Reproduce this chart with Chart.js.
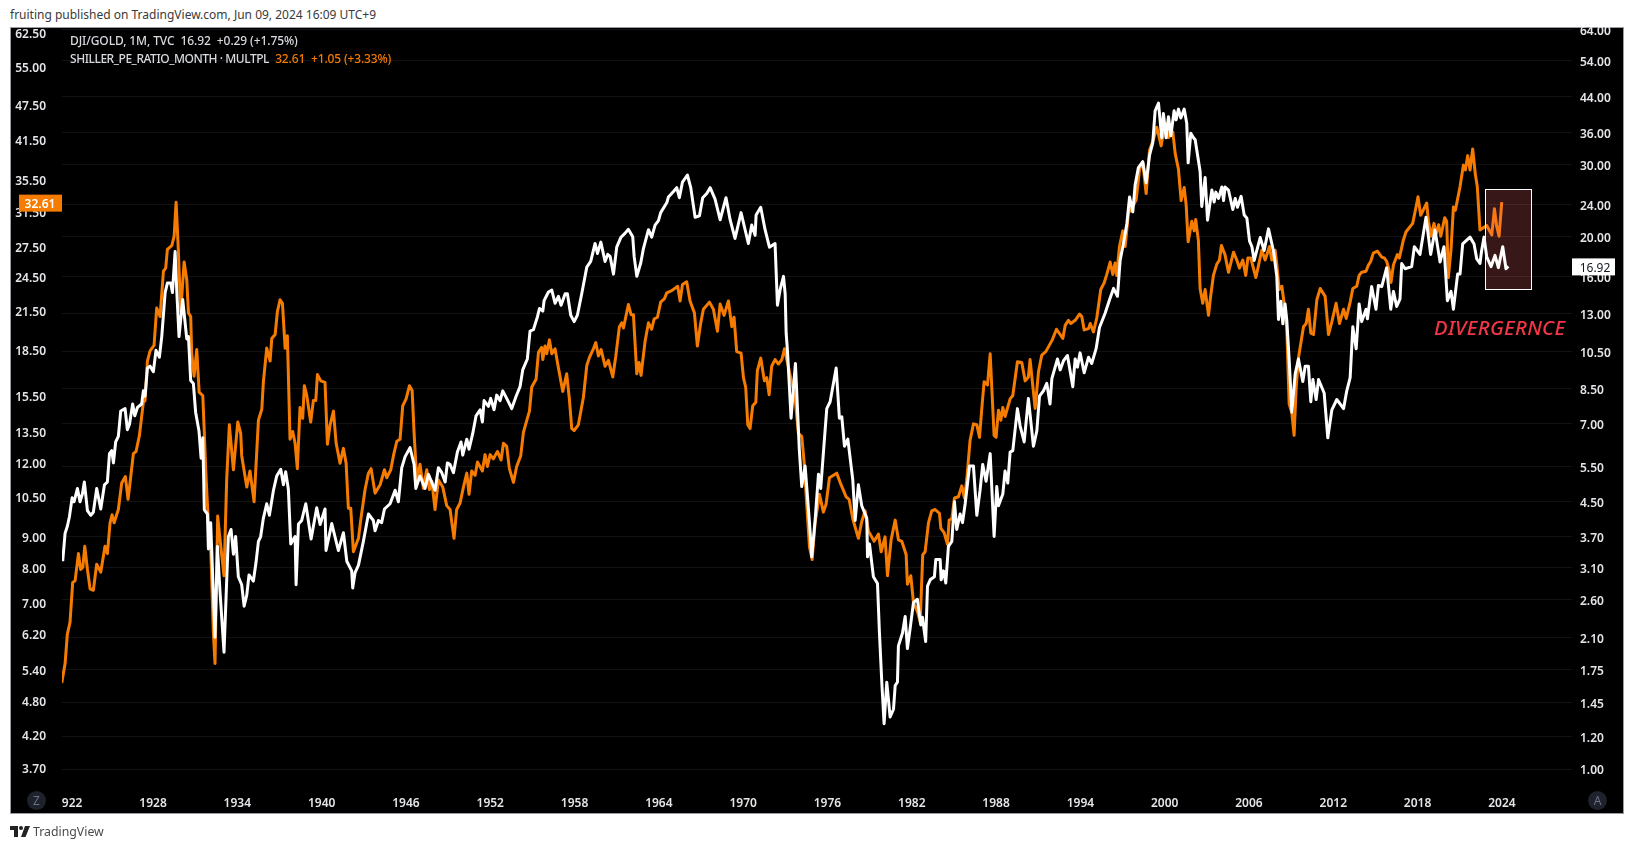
<!DOCTYPE html>
<html>
<head>
<meta charset="utf-8">
<title>DJI/GOLD vs Shiller PE</title>
<script src="https://cdn.jsdelivr.net/npm/chart.js@4"></script>
<style>
  html, body { margin: 0; padding: 0; background: #fff; }
  body { width: 1634px; height: 849px; position: relative; overflow: hidden; font-family: "Noto Sans", sans-serif; }
  .capa { position: absolute; white-space: pre; }
  #marco { left: 10px; top: 27px; width: 1612px; height: 785px; background: #000; border: 1px solid #9a9ca3; }
  #grafico { position: absolute; left: 0; top: 0; }
  #cabecera { left: 0; top: 0; width: 1634px; height: 27px; background: #fff; color: #3a3a3a; font-size: 12px; line-height: 30px; padding-left: 10px; box-sizing: border-box; }
  .leyenda { left: 70px; font-size: 12px; font-weight: 500; color: #d8dae0; line-height: 16px; letter-spacing: -0.1px; }
  .leyenda b { font-weight: 500; letter-spacing: -0.45px; }
  .leyenda span { color: #f57c00; letter-spacing: -0.15px; }
  #nota { left: 1434px; top: 313px; color: #f23645; font-size: 20.3px; font-style: italic; font-weight: 500; letter-spacing: 0.3px; line-height: 28px; }
  .boton { width: 19px; height: 19px; line-height: 19px; border-radius: 50%; background: #1e222d; color: #6f7280; font-size: 12px; text-align: center; top: 791px; }
  #marca { left: 33px; top: 822px; color: #4a4a4a; font-size: 12.3px; line-height: 20px; }
  #logo { position: absolute; left: 10px; top: 826px; }
</style>
</head>
<body>
<div id="marco" class="capa"></div>
<canvas id="grafico" width="1634" height="849"></canvas>
<div id="cabecera" class="capa">fruiting published on TradingView.com, Jun 09, 2024 16:09 UTC+9</div>
<div class="capa leyenda" style="top:33px">DJI/GOLD, 1M, TVC  16.92  +0.29 (+1.75%)</div>
<div class="capa leyenda" style="top:51px"><b>SHILLER_PE_RATIO_MONTH · MULTPL</b>  <span>32.61  +1.05 (+3.33%)</span></div>
<div id="nota" class="capa">DIVERGERNCE</div>
<div class="capa boton" style="left:27px">Z</div>
<div class="capa boton" style="left:1588px">A</div>
<svg id="logo" width="20" height="11" viewBox="0 0 20 11"><path d="M0 0h8v11H4V4H0z M15 0h5l-4.500 11H11z" fill="#222"/><circle cx="11" cy="2" r="2" fill="#222"/></svg>
<div id="marca" class="capa">TradingView</div>

<script>
// eje de tiempo
const ticksX = [1922.24, 1928, 1934, 1940, 1946, 1952, 1958, 1964, 1970, 1976, 1982, 1988, 1994, 2000, 2006, 2012, 2018, 2024];
const etiquetasX = ["922", "1928", "1934", "1940", "1946", "1952", "1958", "1964", "1970", "1976", "1982", "1988", "1994", "2000", "2006", "2012", "2018", "2024"];

// escalas de precio
const ticksIzquierda = [62.5, 55, 47.5, 41.5, 35.5, 31.5, 27.5, 24.5, 21.5, 18.5, 15.5, 13.5, 12, 10.5, 9, 8, 7, 6.2, 5.4, 4.8, 4.2, 3.7];
const ticksDerecha = [64, 54, 44, 36, 30, 24, 20, 16, 13, 10.5, 8.5, 7, 5.5, 4.5, 3.7, 3.1, 2.6, 2.1, 1.75, 1.45, 1.2, 1];

// SHILLER_PE_RATIO_MONTH, [anio, valor]
const shiller = [
  [1921.5,5.13],[1921.74,5.53],[1921.9,6.19],[1922.09,6.48],[1922.28,7.55],[1922.45,7.6],[1922.69,8.44],[1922.85,7.94],[1923.0,8.0],[1923.14,8.68],
  [1923.33,7.94],[1923.52,7.37],[1923.75,7.33],[1923.99,8.1],[1924.28,7.86],[1924.58,8.68],[1924.75,8.44],[1924.94,9.5],[1925.08,9.8],[1925.23,9.5],
  [1925.53,10.0],[1925.77,11.07],[1926.03,11.35],[1926.22,10.4],[1926.36,11.07],[1926.6,12.4],[1926.79,12.5],[1927.03,13.3],[1927.31,15.1],[1927.43,15.2],
  [1927.6,17.7],[1927.79,18.4],[1928.07,18.8],[1928.26,21.7],[1928.5,21.0],[1928.74,25],[1928.9,25.3],[1929.02,27.2],[1929.33,27.6],[1929.5,28.6],
  [1929.64,32.6],[1929.78,27.8],[1929.97,21.4],[1930.21,25.9],[1930.4,24.2],[1930.52,21.3],[1930.68,21.0],[1930.75,18.2],[1930.92,16.7],[1931.11,18.5],
  [1931.28,15.7],[1931.54,15.5],[1931.65,13.4],[1931.77,11.35],[1931.94,9.5],[1932.1,8.68],[1932.29,6.25],[1932.41,5.53],[1932.6,9.75],[1932.82,8.68],
  [1933.05,7.75],[1933.24,11.2],[1933.43,13.85],[1933.72,11.65],[1934.03,14],[1934.24,13.4],[1934.31,12.3],[1934.67,10.9],[1934.9,11.6],[1935.19,10.3],
  [1935.5,14.1],[1935.74,14.7],[1935.85,16.3],[1936.09,18.6],[1936.33,17.7],[1936.45,19.3],[1936.69,19.6],[1936.85,21.4],[1937.04,22.4],[1937.21,22.1],
  [1937.4,18.6],[1937.56,19.5],[1937.75,13.1],[1937.94,13.5],[1938.11,12.9],[1938.27,11.7],[1938.46,14.8],[1938.65,14.2],[1938.77,16.1],[1938.94,15.5],
  [1939.22,14],[1939.41,15.2],[1939.58,15.2],[1939.7,16.8],[1939.94,16.4],[1940.24,16.3],[1940.41,12.85],[1940.6,13.85],[1940.84,14.6],[1941.03,12.9],
  [1941.31,11.95],[1941.55,12.65],[1941.74,11.95],[1941.9,10.05],[1942.07,10.05],[1942.26,8.5],[1942.62,8.95],[1942.78,9.6],[1943.09,10.8],[1943.33,11.5],
  [1943.52,11.7],[1943.8,10.65],[1944.16,11.0],[1944.47,11.65],[1944.63,11.3],[1944.92,11.65],[1945.11,12.3],[1945.35,13],[1945.58,13.1],[1945.77,14.9],
  [1946.01,15.3],[1946.25,16.1],[1946.44,15.8],[1946.58,13.4],[1946.77,11.2],[1947.0,11.9],[1947.24,10.85],[1947.48,11.65],[1947.67,10.8],[1947.84,11.15],
  [1948.07,10],[1948.31,11.2],[1948.62,10.9],[1948.9,10.15],[1949.14,10.0],[1949.42,8.95],[1949.61,10.0],[1949.85,10.25],[1950.09,10.9],[1950.33,11.5],
  [1950.49,10.6],[1950.68,11.6],[1950.92,11.4],[1951.09,12.0],[1951.44,11.6],[1951.63,12.35],[1951.8,11.8],[1951.99,12.35],[1952.22,12.15],[1952.51,12.5],
  [1952.77,12.1],[1952.94,12.9],[1953.17,12.75],[1953.36,11.7],[1953.65,11.1],[1953.88,11.8],[1954.17,12.3],[1954.36,13.45],[1954.64,14.2],[1954.79,14.6],
  [1954.95,16.0],[1955.07,16.2],[1955.26,16.5],[1955.43,18.3],[1955.66,18.65],[1955.74,17.8],[1955.9,18.75],[1956.02,18.2],[1956.21,19.2],[1956.38,18.2],
  [1956.61,18.55],[1956.85,17.25],[1957.16,15.75],[1957.44,16.85],[1957.63,15.3],[1957.8,13.65],[1957.97,13.55],[1958.27,13.85],[1958.63,15.4],[1958.87,17.4],
  [1959.06,17.95],[1959.34,18.55],[1959.51,19],[1959.7,18.05],[1959.89,18.5],[1960.17,17.35],[1960.41,17.75],[1960.72,16.65],[1960.93,18.0],[1961.19,20.2],
  [1961.36,20.5],[1961.48,20.1],[1961.83,22.0],[1962.02,21.15],[1962.19,21.15],[1962.43,16.85],[1962.59,17.6],[1962.73,16.75],[1963.02,19.1],[1963.26,20.5],
  [1963.49,20],[1963.66,20.8],[1963.9,20.95],[1964.13,22.2],[1964.4,22.5],[1964.56,23],[1964.92,23.2],[1965.34,23.6],[1965.51,22.3],[1965.68,23.75],
  [1965.98,24.0],[1966.22,22.3],[1966.53,21.3],[1966.74,18.75],[1966.98,20.5],[1967.17,21.6],[1967.6,22.2],[1967.88,21.6],[1968.17,19.85],[1968.36,22.05],
  [1968.64,21.1],[1968.95,22.3],[1969.19,20.2],[1969.35,20.95],[1969.54,18.35],[1969.85,18.25],[1970.02,16.6],[1970.18,16.0],[1970.33,13.85],[1970.49,13.65],
  [1970.68,14.9],[1970.9,15.1],[1971.01,17.05],[1971.25,17.9],[1971.51,16.4],[1971.68,16.6],[1971.85,15.55],[1972.03,17.35],[1972.27,17.8],[1972.51,17.5],
  [1972.75,17.8],[1972.94,18.55],[1973.15,17.6],[1973.7,15.3],[1973.93,13.4],[1974.17,13.25],[1974.34,12.0],[1974.53,10.15],[1974.72,8.65],[1974.91,8.25],
  [1975.12,9.5],[1975.43,10.6],[1975.71,9.9],[1975.9,10.2],[1976.14,11.3],[1976.66,11.5],[1976.9,11.1],[1977.33,10.5],[1977.54,10.4],[1977.8,9.65],
  [1978.2,8.95],[1978.44,9.55],[1978.68,9.95],[1978.92,9.2],[1979.15,9.0],[1979.32,8.85],[1979.63,9.1],[1979.82,8.5],[1980.1,9.0],[1980.27,7.75],
  [1980.53,8.9],[1980.82,9.6],[1981.05,8.9],[1981.29,8.85],[1981.6,8.4],[1981.69,7.5],[1981.93,7.75],[1982.12,7.0],[1982.4,6.75],[1982.6,6.5],
  [1982.78,8.4],[1982.95,8.5],[1983.19,9.5],[1983.42,9.95],[1983.66,10.0],[1983.97,9.85],[1984.07,9.3],[1984.3,9.15],[1984.54,8.75],[1984.66,9.6],
  [1984.85,9.65],[1985.04,10.45],[1985.32,10.5],[1985.56,10.95],[1985.75,10.45],[1985.91,11.2],[1986.15,13.05],[1986.39,13.9],[1986.63,13.85],[1986.82,13.2],
  [1987.01,15.0],[1987.15,16.35],[1987.39,16.15],[1987.58,18.2],[1987.86,13.3],[1988.0,13.2],[1988.17,14.65],[1988.34,14.1],[1988.48,14.8],[1988.64,14.3],
  [1989.0,15.3],[1989.19,15.5],[1989.52,17.65],[1989.83,17.6],[1990.07,16.4],[1990.3,16.65],[1990.42,17.8],[1990.78,14.75],[1991.02,17.0],[1991.25,18.1],
  [1991.54,18.35],[1992.0,19.2],[1992.3,20.0],[1992.56,19.6],[1992.75,19.3],[1992.92,20.3],[1993.15,20.7],[1993.32,20.45],[1993.63,20.7],[1993.94,21.2],
  [1994.1,21.0],[1994.27,19.95],[1994.58,20.05],[1994.7,20.45],[1994.93,19.8],[1995.17,20.9],[1995.45,23.3],[1995.69,23.9],[1995.88,24.7],[1996.12,25.9],
  [1996.31,24.7],[1996.47,25.8],[1996.59,24.6],[1996.78,27.5],[1997.02,29.2],[1997.19,27.5],[1997.42,31.3],[1997.66,31.8],[1997.97,32.9],[1998.21,37.0],
  [1998.44,38],[1998.68,33.7],[1998.92,39.8],[1999.2,41.5],[1999.44,43.5],[1999.75,40.5],[2000.03,44.2],[2000.27,41.8],[2000.58,42.7],[2000.75,39.3],
  [2000.98,37],[2001.17,32.8],[2001.39,34.5],[2001.53,32.2],[2001.67,28],[2001.93,30.3],[2002.1,29.2],[2002.21,30.5],[2002.4,28.1],[2002.52,23.4],
  [2002.71,22.1],[2002.88,23.3],[2003.12,21.1],[2003.28,22.8],[2003.47,24.6],[2003.71,25.7],[2003.9,26.1],[2004.04,27.6],[2004.3,26.6],[2004.54,24.9],
  [2004.9,26.9],[2005.13,26.1],[2005.32,25.3],[2005.56,26.1],[2005.77,24.6],[2005.92,26.3],[2006.13,26.3],[2006.49,24.4],[2006.91,27.1],[2007.15,26.1],
  [2007.46,27.5],[2007.62,26.1],[2007.86,27.1],[2007.98,25.7],[2008.15,23.3],[2008.34,23.6],[2008.57,21.5],[2008.69,20],[2008.86,15.0],[2009.05,14.5],
  [2009.21,13.3],[2009.36,16],[2009.52,17.9],[2009.88,20.2],[2010.07,20.45],[2010.23,21.6],[2010.4,19.7],[2010.59,19.6],[2010.83,22.4],[2011.07,23.4],
  [2011.42,22.7],[2011.66,19.6],[2011.9,20.6],[2012.2,22.1],[2012.44,20.45],[2012.73,21.6],[2012.92,20.85],[2013.2,22.2],[2013.39,23.4],[2013.67,23.6],
  [2013.84,24.6],[2014.02,24.9],[2014.33,25],[2014.5,25.6],[2014.66,25.95],[2014.85,26.8],[2015.14,27],[2015.45,26.4],[2015.64,26.3],[2015.8,25.95],
  [2015.97,25.15],[2016.11,23.95],[2016.28,25.6],[2016.56,26.65],[2016.7,26.3],[2016.99,28.2],[2017.18,29.1],[2017.65,30.05],[2017.89,32],[2018.03,33.3],
  [2018.22,31],[2018.65,32.5],[2018.77,30.3],[2018.96,28.6],[2019.17,30.05],[2019.31,28.8],[2019.5,29.9],[2019.65,28.6],[2019.93,30.7],[2020.07,30.3],
  [2020.19,24.4],[2020.38,27.2],[2020.55,32],[2020.69,31.6],[2021.02,34.6],[2021.26,37.6],[2021.4,36.9],[2021.57,39],[2021.73,36.9],[2021.92,40.0],
  [2022.11,36.3],[2022.25,34.6],[2022.44,29.3],[2022.92,29.8],[2023.28,28.75],[2023.47,31.8],[2023.63,29.7],[2023.8,28.6],[2023.99,32.61]
];

// DJI/GOLD, [anio, valor]
const djiOro = [
  [1921.57,3.22],[1921.74,3.77],[1921.9,3.92],[1922.05,4.14],[1922.24,4.6],[1922.38,4.5],[1922.62,4.85],[1922.8,4.5],[1922.97,4.7],[1923.11,5.03],
  [1923.33,4.28],[1923.57,4.17],[1923.75,4.24],[1923.99,4.85],[1924.28,4.32],[1924.54,4.95],[1924.75,5.03],[1924.9,5.9],[1925.06,6.0],[1925.18,5.6],
  [1925.34,6.3],[1925.53,6.5],[1925.7,7.5],[1926.01,7.6],[1926.17,6.75],[1926.32,6.95],[1926.55,7.8],[1926.7,7.3],[1926.89,7.65],[1927.19,7.8],
  [1927.31,8.4],[1927.43,8.15],[1927.6,9.55],[1927.79,9.65],[1928.02,9.35],[1928.21,10.55],[1928.45,10.15],[1928.62,11.4],[1928.86,14.6],[1929.02,15.4],
  [1929.26,15.4],[1929.38,14.6],[1929.57,18.4],[1929.69,14.7],[1929.85,11.4],[1930.11,14.05],[1930.4,11.25],[1930.52,11.4],[1930.68,8.9],[1930.87,8.75],
  [1931.03,7.45],[1931.27,6.7],[1931.42,5.75],[1931.54,6.45],[1931.65,4.3],[1931.87,4.2],[1931.94,3.45],[1932.1,4.0],[1932.41,2.1],[1932.58,3.5],
  [1932.77,2.7],[1933.05,1.93],[1933.24,2.88],[1933.36,3.7],[1933.55,3.85],[1933.72,3.35],[1933.88,3.7],[1934.07,2.95],[1934.31,2.82],[1934.48,2.5],
  [1934.67,2.66],[1934.83,2.98],[1935.14,2.88],[1935.33,3.2],[1935.5,3.6],[1935.66,3.7],[1935.85,4.1],[1936.09,4.45],[1936.28,4.17],[1936.57,4.8],
  [1936.8,5.2],[1937.09,5.4],[1937.28,4.95],[1937.44,5.33],[1937.63,4.83],[1937.8,3.55],[1938.11,3.7],[1938.18,2.82],[1938.35,3.97],[1938.58,4.05],
  [1938.87,4.45],[1939.25,3.65],[1939.65,4.35],[1939.89,3.96],[1940.24,4.32],[1940.31,3.42],[1940.72,3.98],[1941.19,3.42],[1941.55,3.78],[1941.79,3.22],
  [1942.14,3.05],[1942.21,2.77],[1942.38,3.02],[1942.62,3.15],[1942.97,3.6],[1943.33,4.2],[1943.68,4.05],[1943.8,3.82],[1944.04,4.05],[1944.27,4.0],
  [1944.47,4.32],[1944.87,4.45],[1945.23,4.8],[1945.46,4.5],[1945.7,5.45],[1945.94,5.8],[1946.29,6.1],[1946.58,5.55],[1946.7,4.85],[1947.0,5.2],
  [1947.36,4.85],[1947.6,5.25],[1948.07,4.8],[1948.31,5.45],[1948.55,5.3],[1948.79,5.03],[1948.95,5.6],[1949.14,5.55],[1949.38,5.3],[1949.66,5.95],
  [1949.92,6.3],[1950.04,5.85],[1950.33,6.4],[1950.49,6.05],[1950.75,6.6],[1950.99,7.3],[1951.28,7.55],[1951.44,7.05],[1951.56,7.95],[1951.87,7.7],
  [1952.03,8.05],[1952.27,7.55],[1952.46,8.2],[1952.7,7.95],[1952.89,8.4],[1953.17,8.05],[1953.53,7.6],[1953.84,8.15],[1954.12,8.6],[1954.31,9.45],
  [1954.64,10.05],[1954.83,11.75],[1955.07,11.85],[1955.36,12.75],[1955.5,13.35],[1955.74,13.15],[1955.83,13.95],[1956.14,14.65],[1956.38,14.8],[1956.61,13.75],
  [1956.85,14.3],[1957.04,13.6],[1957.33,14.5],[1957.49,14.5],[1957.73,12.85],[1957.97,12.4],[1958.2,12.85],[1958.51,14.5],[1958.87,16.85],[1959.15,17.4],
  [1959.46,19.25],[1959.63,18.2],[1959.87,19.4],[1960.17,17.4],[1960.36,18.1],[1960.53,17.9],[1960.77,16.2],[1961.0,18.85],[1961.29,19.9],[1961.6,20.4],
  [1961.83,20.85],[1962.14,20],[1962.24,17.9],[1962.43,16],[1962.71,17.25],[1962.9,18.7],[1963.26,20.8],[1963.49,19.95],[1963.73,21.35],[1963.97,21.9],
  [1964.13,22.9],[1964.56,24.2],[1964.68,25],[1965.04,25.8],[1965.27,26.35],[1965.46,24.9],[1965.68,27.2],[1966.03,28.3],[1966.27,26.35],[1966.58,22.3],
  [1966.89,22.5],[1967.12,24.9],[1967.41,25.5],[1967.65,26.35],[1968.0,24.7],[1968.36,22],[1968.78,24.9],[1969.07,22],[1969.42,19.8],[1969.85,22.9],
  [1970.37,19.25],[1970.61,21.35],[1970.85,20.15],[1970.92,22.6],[1971.25,23.6],[1971.56,20.8],[1971.87,18.85],[1972.27,19.25],[1972.44,13.6],[1972.63,14.85],
  [1972.87,16.0],[1972.99,14.5],[1973.06,11.6],[1973.15,10.57],[1973.41,7.2],[1973.72,9.8],[1974.0,6.0],[1974.17,4.9],[1974.41,5.5],[1974.72,4.0],
  [1974.88,3.3],[1975.12,4.05],[1975.36,5.25],[1975.52,4.85],[1975.79,6.45],[1975.95,7.6],[1976.19,7.9],[1976.62,9.55],[1976.85,7.2],[1977.02,7.26],
  [1977.21,6.15],[1977.45,6.4],[1977.8,5.1],[1977.97,4.05],[1978.2,4.95],[1978.44,4.4],[1978.8,4.1],[1978.85,3.3],[1978.99,3.55],[1979.27,2.95],
  [1979.56,2.84],[1979.7,2.15],[1979.87,1.62],[1980.03,1.29],[1980.22,1.63],[1980.46,1.34],[1980.7,1.4],[1980.82,1.6],[1980.98,1.63],[1981.05,2.0],
  [1981.34,2.15],[1981.53,2.36],[1981.69,1.97],[1981.88,2.2],[1982.12,2.55],[1982.4,2.6],[1982.64,2.25],[1982.76,2.35],[1982.99,2.05],[1983.12,2.8],
  [1983.31,2.9],[1983.61,2.95],[1983.71,3.25],[1984.02,3.25],[1984.09,2.9],[1984.26,3.05],[1984.42,2.85],[1984.61,3.5],[1984.85,3.6],[1985.04,4.5],
  [1985.2,3.85],[1985.44,4.2],[1985.61,4.0],[1985.8,4.45],[1986.11,5.5],[1986.39,5.5],[1986.63,4.17],[1986.86,4.8],[1987.05,5.55],[1987.29,5.05],
  [1987.58,5.9],[1987.86,3.7],[1988.05,4.9],[1988.17,4.4],[1988.48,4.7],[1988.64,5.35],[1988.83,5.0],[1989.0,5.95],[1989.19,6.0],[1989.52,7.6],
  [1989.71,6.9],[1990.0,6.3],[1990.3,8.05],[1990.66,6.15],[1990.9,6.7],[1991.09,8.15],[1991.37,8.4],[1991.61,8.76],[1991.84,7.8],[1991.97,9.0],
  [1992.37,10.05],[1992.56,9.45],[1992.8,9.95],[1993.08,10.25],[1993.46,8.6],[1993.63,10.05],[1993.79,9.6],[1993.98,10.4],[1994.27,9.3],[1994.58,10.15],
  [1994.81,9.8],[1995.12,10.65],[1995.36,12.0],[1995.76,13.0],[1996.07,14.0],[1996.36,14.95],[1996.64,14.3],[1996.83,17.5],[1997.07,19.3],[1997.31,21.55],
  [1997.5,25.0],[1997.73,23],[1997.9,26.8],[1998.13,29.5],[1998.44,30.5],[1998.68,27.1],[1998.92,31.6],[1999.15,33.9],[1999.32,40.6],[1999.56,42.4],
  [1999.79,34.9],[1999.91,40],[2000.1,34.9],[2000.27,39.3],[2000.44,35.3],[2000.67,40.6],[2000.81,38.6],[2000.98,41],[2001.15,39],[2001.39,41],
  [2001.57,37.85],[2001.67,30.3],[2001.86,35.8],[2002.05,34.9],[2002.17,34.5],[2002.52,28.9],[2002.64,23.7],[2002.88,27.9],[2003.05,21.95],[2003.36,26],
  [2003.52,24.3],[2003.64,25.7],[2003.83,24.8],[2004.07,26.45],[2004.19,24.5],[2004.3,26.45],[2004.54,26],[2004.85,23.3],[2005.02,24.8],[2005.18,23.6],
  [2005.44,25.1],[2005.66,22.6],[2005.85,22.2],[2006.04,19.5],[2006.21,18.9],[2006.37,17.5],[2006.8,19.9],[2007.08,18.5],[2007.39,20.9],[2007.75,18.4],
  [2007.98,16],[2008.1,12.55],[2008.27,13.9],[2008.41,12.25],[2008.57,13.7],[2008.69,12.5],[2008.86,10],[2009.05,7.45],[2009.29,9.25],[2009.52,10.05],
  [2009.83,8.85],[2010.0,9.65],[2010.23,9.65],[2010.4,7.9],[2010.55,8.95],[2010.78,8],[2010.95,8.95],[2011.35,8.3],[2011.61,6.45],[2011.9,7.55],
  [2012.25,8],[2012.73,7.6],[2012.96,8.4],[2013.2,9.05],[2013.39,12.05],[2013.63,10.65],[2013.84,13.7],[2014.02,12.4],[2014.33,13.3],[2014.43,12.6],
  [2014.73,15.1],[2015.04,13.3],[2015.21,15.2],[2015.45,15.1],[2015.8,16.8],[2016.09,13.3],[2016.28,14.7],[2016.51,13.5],[2016.75,14.1],[2016.87,17.2],
  [2017.11,16.7],[2017.58,16.9],[2017.77,18.9],[2018.17,18.1],[2018.6,22.3],[2018.93,18.1],[2019.24,20.75],[2019.6,17.35],[2019.88,18.9],[2020.12,13.95],
  [2020.38,14.7],[2020.55,13.3],[2020.85,16.2],[2021.02,16.2],[2021.21,19.2],[2021.73,19.95],[2022.02,19.2],[2022.21,17.65],[2022.44,17.2],[2022.56,18.5],
  [2022.73,19.95],[2022.92,17.85],[2023.23,16.9],[2023.51,18],[2023.75,16.8],[2024.06,18.9],[2024.29,16.7],[2024.46,16.92]
];

const zonaDivergencia = { desde: 2022.83, hasta: 2026.13, alto: 26.1, bajo: 14.87 };

const COLORES = { naranja: '#f57c00', blanco: '#ffffff', eje: '#e4e5e8', rejilla: 'rgba(255,255,255,0.07)' };
const FUENTE = { family: "'Noto Sans', sans-serif", size: 12, weight: '600' };

function fijarTicks(valores) {
  return (escala) => { escala.ticks = valores.map((v) => ({ value: v })); };
}

// el texto de chart.js queda 2px alto respecto a la linea de la rejilla
function bajarEtiquetas(escala) {
  if (escala.bajado) return;
  escala.bajado = true;
  const original = escala.drawLabels;
  escala.drawLabels = function (area) {
    this.ctx.save();
    this.ctx.translate(0, 2);
    original.call(this, area);
    this.ctx.restore();
  };
}

function puntos(lista) {
  return lista.map((p) => ({ x: p[0], y: p[1] }));
}

const extras = {
  id: 'extras',
  // el recuadro va encima de la serie naranja y debajo de la blanca
  afterDatasetDraw(chart, args) {
    if (args.index !== 1) return;
    const { ctx, scales } = chart;
    const x0 = scales.x.getPixelForValue(zonaDivergencia.desde);
    const x1 = scales.x.getPixelForValue(zonaDivergencia.hasta);
    const y0 = scales.y1.getPixelForValue(zonaDivergencia.alto);
    const y1 = scales.y1.getPixelForValue(zonaDivergencia.bajo);
    ctx.save();
    ctx.fillStyle = 'rgba(255,105,115,0.22)';
    ctx.fillRect(x0, y0, x1 - x0, y1 - y0);
    ctx.strokeStyle = '#ffffff';
    ctx.lineWidth = 1;
    ctx.strokeRect(Math.round(x0) + 0.5, Math.round(y0) + 0.5, Math.round(x1 - x0), Math.round(y1 - y0));
    ctx.restore();
  },
  afterDraw(chart) {
    const { ctx, scales, chartArea } = chart;
    const ultimoNaranja = shiller[shiller.length - 1][1];
    const ultimoBlanco = djiOro[djiOro.length - 1][1];
    const yn = scales.y.getPixelForValue(ultimoNaranja);
    const yb = scales.y1.getPixelForValue(ultimoBlanco);
    ctx.save();
    ctx.font = "600 12px 'Noto Sans', sans-serif";
    ctx.textBaseline = 'middle';
    ctx.textAlign = 'center';
    ctx.fillStyle = COLORES.naranja;
    ctx.fillRect(chartArea.left - 43, yn - 7.500, 43, 17);
    ctx.fillStyle = '#ffffff';
    ctx.fillText(ultimoNaranja.toFixed(2), chartArea.left - 22, yn + 2);
    ctx.fillStyle = '#ffffff';
    ctx.fillRect(chartArea.right, yb - 8, 43, 17);
    ctx.fillStyle = '#131722';
    ctx.font = "12px 'Noto Sans', sans-serif";
    ctx.fillText(ultimoBlanco.toFixed(2), chartArea.right + 23, yb + 2);
    ctx.restore();
  }
};

new Chart(document.getElementById('grafico'), {
  type: 'line',
  data: {
    datasets: [
      { label: 'DJI/GOLD', data: puntos(djiOro), yAxisID: 'y1', borderColor: COLORES.blanco, borderWidth: 3, pointRadius: 0, tension: 0, borderJoinStyle: 'round' },
      { label: 'SHILLER_PE_RATIO_MONTH', data: puntos(shiller), yAxisID: 'y', borderColor: COLORES.naranja, borderWidth: 3, pointRadius: 0, tension: 0, borderJoinStyle: 'round' }
    ]
  },
  options: {
    responsive: false,
    devicePixelRatio: 1,
    animation: false,
    layout: { padding: { left: 10, right: 11, top: 28, bottom: 36 } },
    plugins: { legend: { display: false }, tooltip: { enabled: false } },
    scales: {
      x: {
        type: 'linear',
        min: 1921.52,
        max: 2028.99,
        afterBuildTicks: fijarTicks(ticksX),
        afterFit: (e) => { e.height = 28; },
        grid: { display: false },
        border: { display: false },
        ticks: {
          autoSkip: false, maxRotation: 0, padding: 3, color: COLORES.eje, font: FUENTE,
          callback: (v, i) => etiquetasX[i]
        }
      },
      y: {
        type: 'logarithmic',
        position: 'left',
        min: 3.466,
        max: 63.71,
        afterBuildTicks: fijarTicks(ticksIzquierda),
        afterFit: (e) => { e.width = 52; bajarEtiquetas(e); },
        grid: { display: false },
        border: { display: false },
        ticks: { autoSkip: false, padding: 8, color: COLORES.eje, font: FUENTE, callback: (v) => Number(v).toFixed(2) }
      },
      y1: {
        type: 'logarithmic',
        position: 'right',
        min: 0.914,
        max: 64.72,
        afterBuildTicks: fijarTicks(ticksDerecha),
        afterFit: (e) => { e.width = 51; bajarEtiquetas(e); },
        grid: { color: COLORES.rejilla, drawTicks: false },
        border: { display: false },
        ticks: { autoSkip: false, padding: 8, color: COLORES.eje, font: FUENTE, callback: (v) => Number(v).toFixed(2) }
      }
    }
  },
  plugins: [extras]
});
</script>
</body>
</html>
